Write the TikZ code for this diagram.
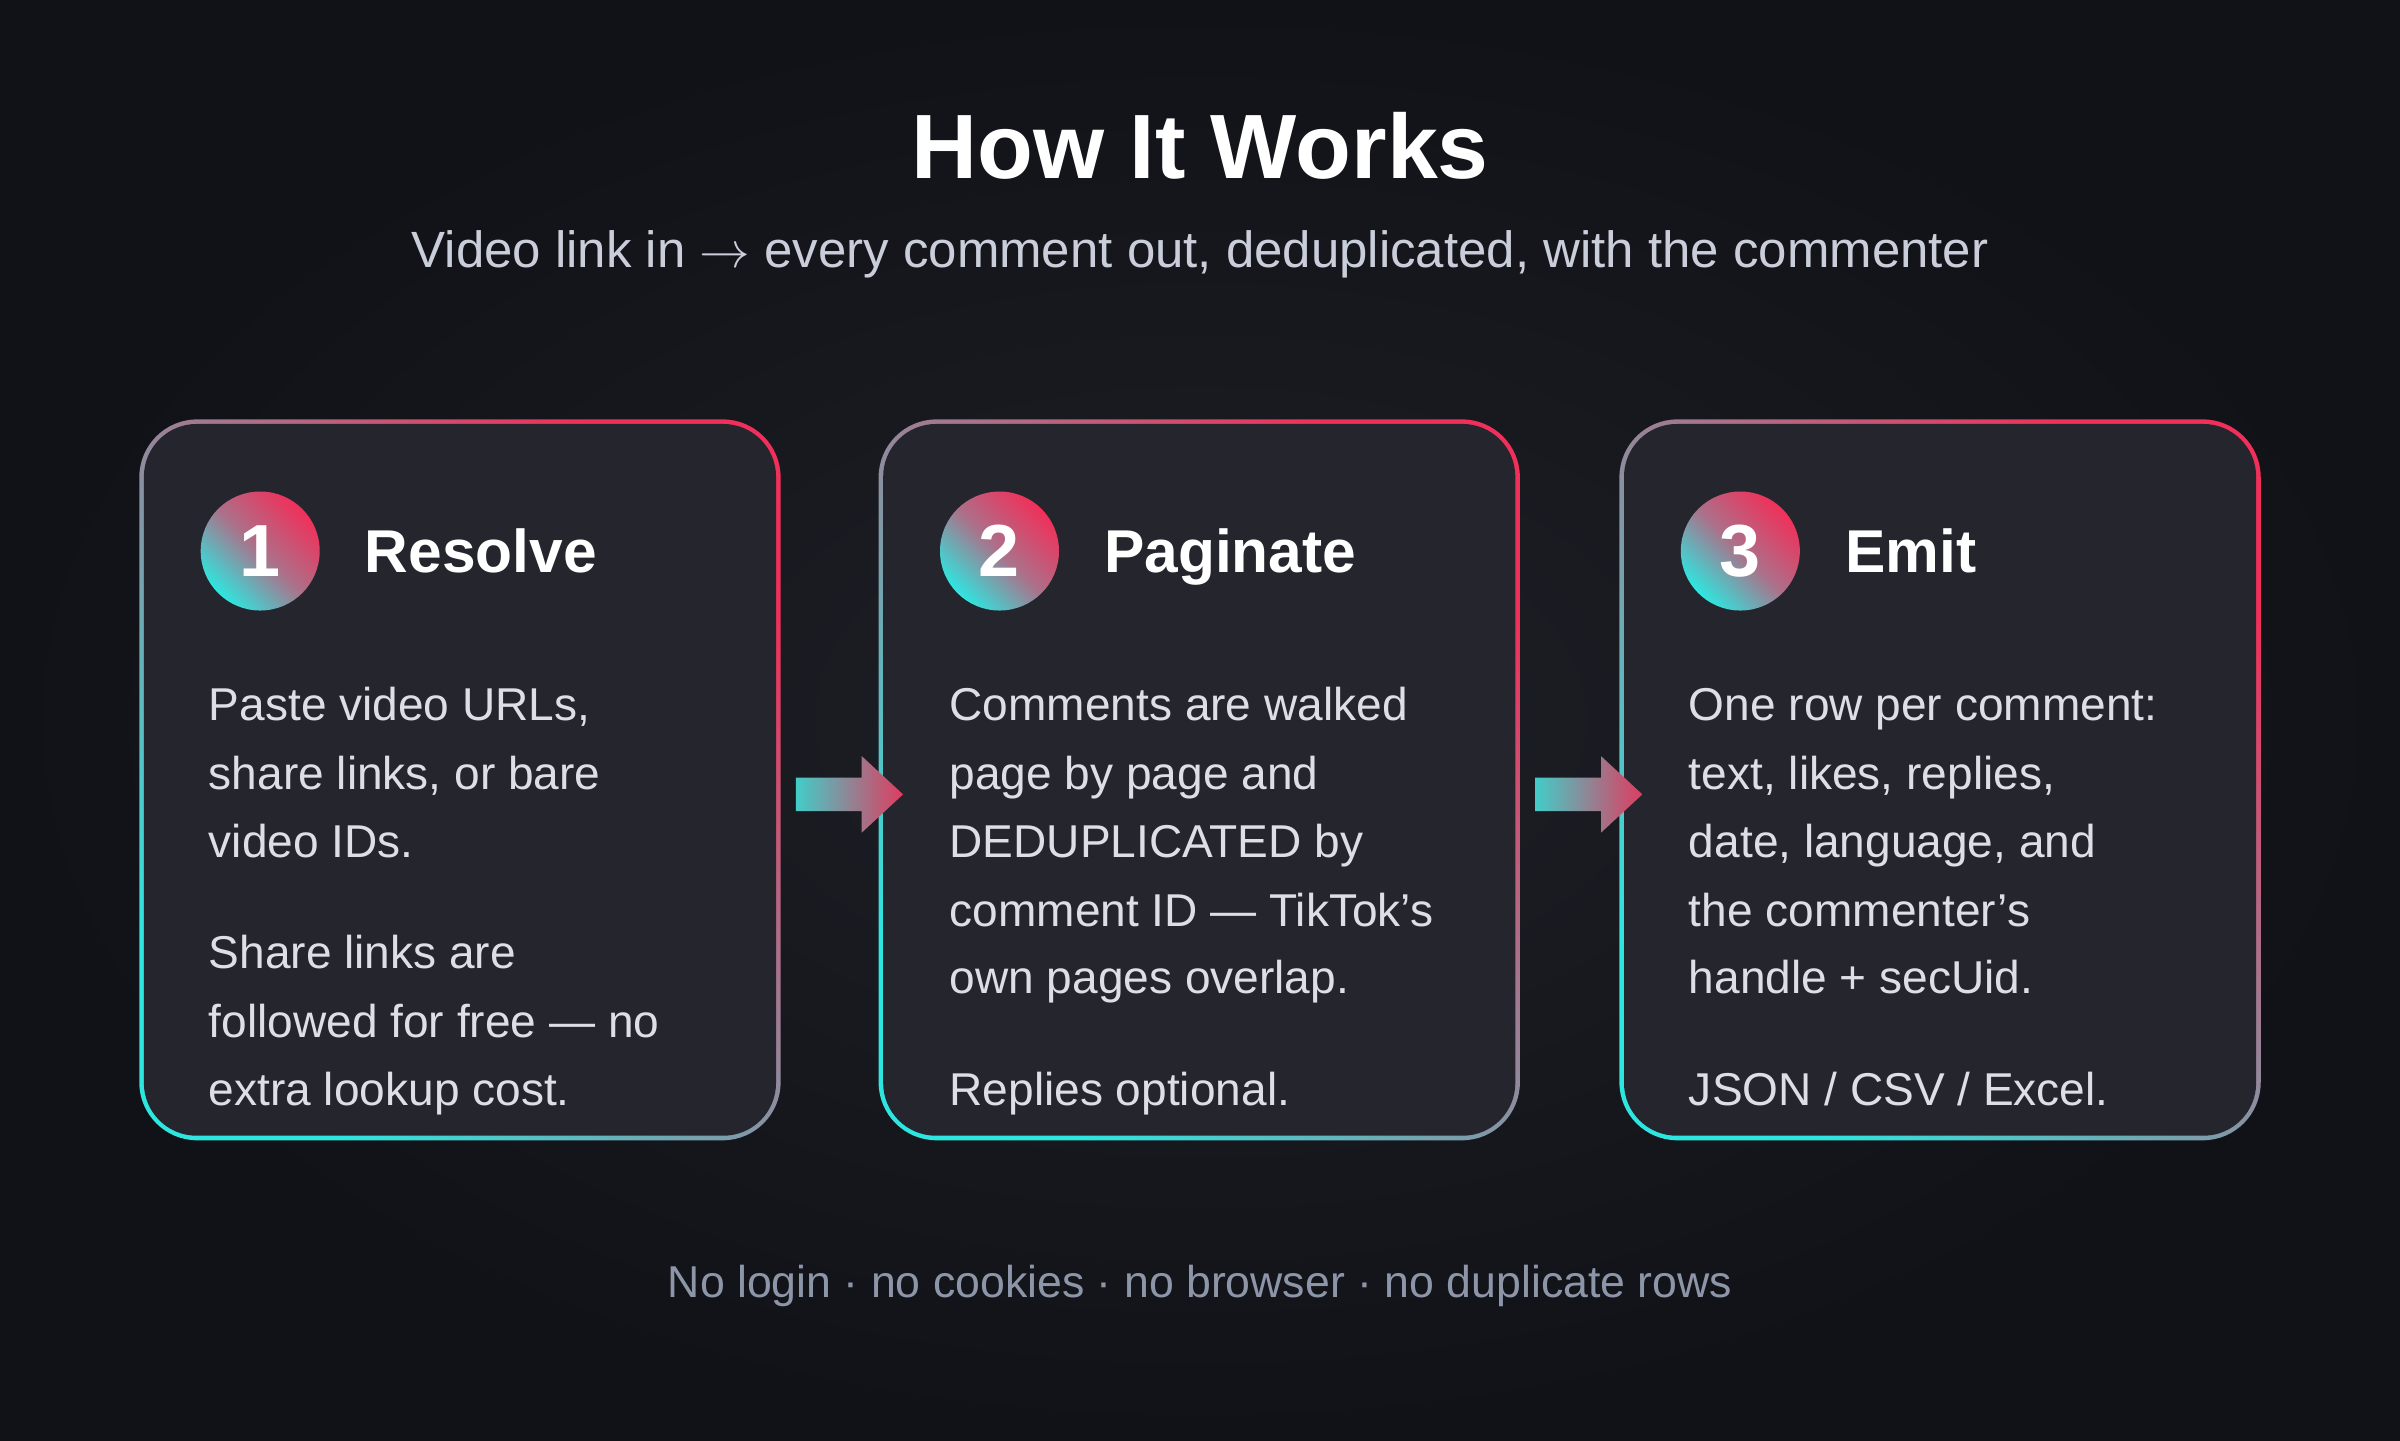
\documentclass[tikz,border=0pt]{standalone}
\usepackage{fontspec}
\setmainfont{Liberation Sans}
\definecolor{bgdark}{HTML}{111217}
\definecolor{bglight}{HTML}{1E2027}
\definecolor{cardfill}{HTML}{25262D}
\definecolor{tkpink}{HTML}{F0305A}
\definecolor{tkcyan}{HTML}{2EE6E0}
\definecolor{tkgray}{HTML}{8E8C9E}
\definecolor{bodytext}{HTML}{DCDFE6}
\definecolor{subtext}{HTML}{C9CEDA}
\definecolor{foottext}{HTML}{8D96A8}

\tikzset{
    card border/.style = {rounded corners = 16.5pt, top color = tkpink, bottom color = tkcyan,
        middle color = tkgray, shading angle = -45},
    card inner/.style = {rounded corners = 15pt, fill = cardfill},
    step badge/.style = {circle, minimum size = 1.19cm, inner sep = 0pt, text = white,
        font = \fontsize{21}{24}\selectfont\bfseries,
        top color = tkpink, bottom color = tkcyan, middle color = tkgray!70!tkpink,
        shading angle = -45},
    step title/.style = {anchor = base west, inner sep = 0pt, text = white, font = \fontsize{17.2}{20}\selectfont\bfseries},
    body line/.style = {anchor = base west, inner sep = 0pt, text = bodytext, font = \fontsize{13.1}{16}\selectfont},
    flow arrow/.style = {left color = tkcyan!75!gray, right color = tkpink!85!gray}
}

\begin{document}
\begin{tikzpicture}[x = 0.015306cm, y = -0.015306cm]

    % Background.
    \fill[inner color = bglight, outer color = bgdark] (0,0) rectangle (1568,941);
    \useasboundingbox (0,0) rectangle (1568,941);

    % Titles.
    \node (title) at (784,95) {\textcolor{white}{\fontsize{26}{30}\selectfont\bfseries How It Works}};
    \node (subtitle) at (784,166) {\textcolor{subtext}{\fontsize{14.5}{18}\selectfont Video link in \(\rightarrow\) every comment out, deduplicated, with the commenter}};

    % Cards with their badges and headings.
    \foreach \x/\num/\head in {91/1/Resolve, 574/2/Paginate, 1058/3/Emit} {
        \shade[card border] (\x,274) rectangle ++(419,471);
        \fill[card inner] (\x+3,277) rectangle ++(413,465);
        \node[step badge] (badge\num) at (\x+79,360) {\num};
        \node[step title] (head\num) at (\x+147,374) {\head};
    }

    % Card texts.
    \foreach \y/\txt in {460/{Paste video URLs,}, 505/{share links, or bare}, 549/{video IDs.},
                         622/{Share links are}, 667/{followed for free --- no}, 711/{extra lookup cost.}}
        \node[body line] at (136,\y+11) {\txt};
    \foreach \y/\txt in {460/{Comments are walked}, 505/{page by page and}, 549/{DEDUPLICATED by},
                         594/{comment ID --- TikTok's}, 638/{own pages overlap.}, 711/{Replies optional.}}
        \node[body line] at (620,\y+11) {\txt};
    \foreach \y/\txt in {460/{One row per comment:}, 505/{text, likes, replies,}, 549/{date, language, and},
                         594/{the commenter's}, 638/{handle + secUid.}, 711/{JSON / CSV / Excel.}}
        \node[body line] at (1103,\y+11) {\txt};

    % Arrows between cards.
    \foreach \x in {520, 1003} {
        \shade[flow arrow] (\x,508) -- (\x+43,508) -- (\x+43,494) -- (\x+70,519)
            -- (\x+43,544) -- (\x+43,530) -- (\x,530) -- cycle;
    }

    % Footer.
    \node (footer) at (784,840) {\textcolor{foottext}{\fontsize{12.7}{16}\selectfont No login · no cookies · no browser · no duplicate rows}};
\end{tikzpicture}
\end{document}
